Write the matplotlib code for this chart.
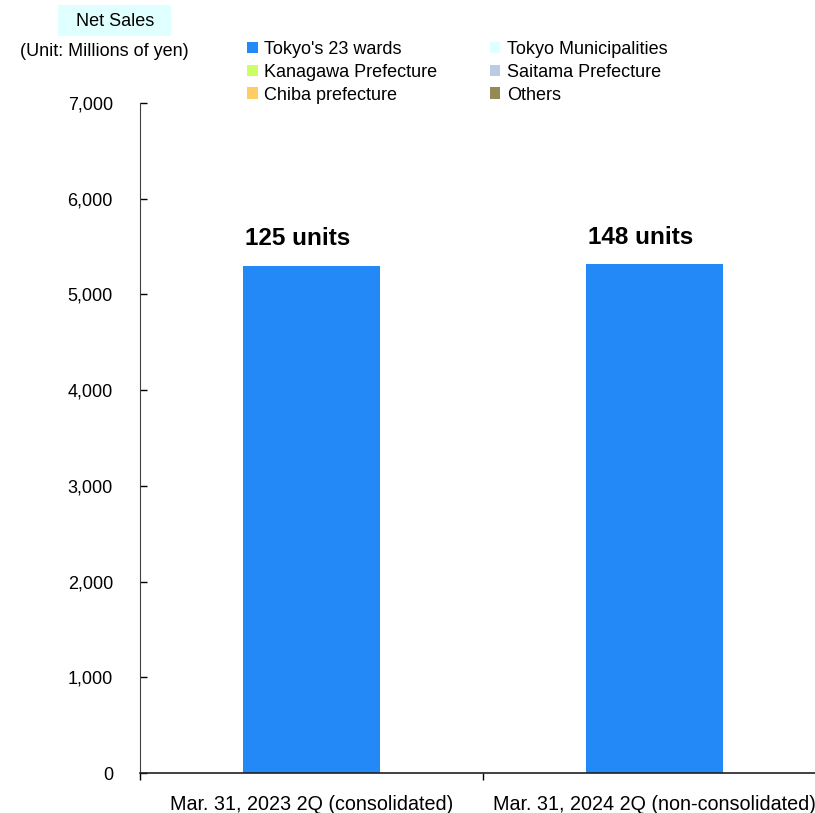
import matplotlib
matplotlib.use('Agg')
import matplotlib.pyplot as plt
from matplotlib.patches import Patch, Rectangle
from matplotlib.ticker import FuncFormatter

plt.rcParams['font.family'] = ['Liberation Sans Narrow', 'Liberation Sans', 'DejaVu Sans']

# data
periods = ['Mar. 31, 2023 2Q (consolidated)', 'Mar. 31, 2024 2Q (non-consolidated)']
regions = ["Tokyo's 23 wards", 'Tokyo Municipalities', 'Kanagawa Prefecture',
           'Saitama Prefecture', 'Chiba prefecture', 'Others']
sales = {
    "Tokyo's 23 wards": [5300, 5320],
    'Tokyo Municipalities': [0, 0],
    'Kanagawa Prefecture': [0, 0],
    'Saitama Prefecture': [0, 0],
    'Chiba prefecture': [0, 0],
    'Others': [0, 0],
}
unit_labels = ['125 units', '148 units']
colors = ['#2389F7', '#E0FFFF', '#CCFF66', '#B8CCE4', '#FFCC66', '#948A54']

fig = plt.figure(figsize=(8.15, 8.13), dpi=100)
ax = fig.add_axes([140 / 815, 40 / 813, 686 / 815, 670 / 813])

x = list(range(len(periods)))
bottom = [0] * len(periods)
for name, c in zip(regions, colors):
    vals = sales[name]
    ax.bar(x, vals, width=0.4, bottom=bottom, color=c, linewidth=0)
    bottom = [b + v for b, v in zip(bottom, vals)]

# unit counts above bars
for i, (tot, lab) in enumerate(zip(bottom, unit_labels)):
    ax.annotate(lab, (i, tot), xytext=(-10, 11), textcoords='offset points',
                ha='center', va='bottom', fontsize=17.5, fontweight='bold')

ax.set_xlim(-0.5, 1.5)
ax.set_ylim(0, 7000)
ax.set_yticks(range(0, 7001, 1000))
ax.yaxis.set_major_formatter(FuncFormatter(lambda v, p: f'{int(v):,}'))
ax.tick_params(axis='y', direction='in', length=5, width=1, pad=19.5, labelsize=13)

# category separators as ticks on x axis, labels in between
ax.set_xticks([-0.5, 0.5, 1.5])
ax.set_xticklabels([])
ax.set_xticks(x, minor=True)
ax.set_xticklabels(periods, minor=True)
ax.tick_params(axis='x', which='major', direction='out', length=5, width=1)
ax.tick_params(axis='x', which='minor', length=0, pad=16, labelsize=14.2)

for s in ['top', 'right']:
    ax.spines[s].set_visible(False)
ax.spines['left'].set_color('#404040')
ax.spines['bottom'].set_color('#202020')
ax.spines['bottom'].set_linewidth(1.2)

# titles
fig.patches.append(Rectangle((58 / 815, 1 - 36 / 813), 113 / 815, 31 / 813,
                             transform=fig.transFigure, facecolor='#E0FFFF',
                             edgecolor='none'))
fig.text(115 / 815, 1 - 21 / 813, 'Net Sales', ha='center', va='center', fontsize=13)
fig.text(104 / 815, 1 - 52 / 813, '(Unit: Millions of yen)', ha='center', va='center', fontsize=13)

handles = [Patch(facecolor=c, edgecolor='none', label=n) for n, c in zip(regions, colors)]
# legend order: row-wise across two columns
order = [0, 2, 4, 1, 3, 5]
fig.legend([handles[k] for k in order], [regions[k] for k in order], ncol=2,
           loc='upper left', bbox_to_anchor=(247 / 815, 1 - 41 / 813),
           frameon=False, fontsize=13, handlelength=0.6, handleheight=0.6,
           handletextpad=0.35, columnspacing=2.9, labelspacing=0.32,
           borderpad=0, borderaxespad=0)

fig.savefig('out.png', dpi=100)
